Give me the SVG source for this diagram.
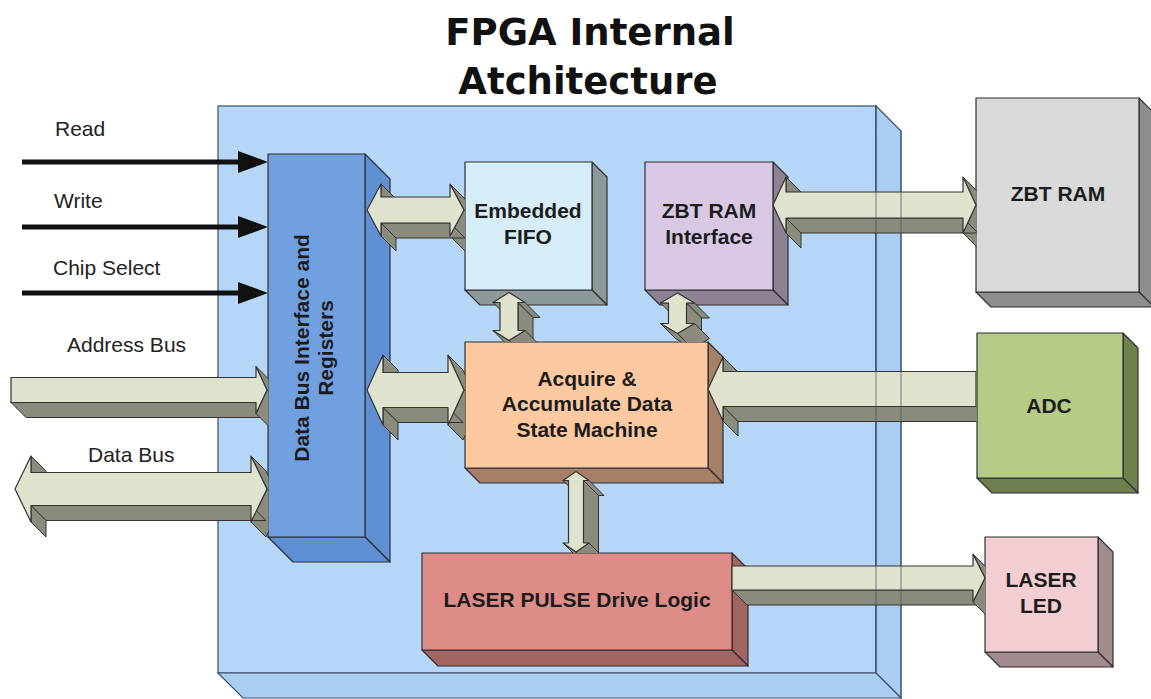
<svg xmlns="http://www.w3.org/2000/svg" width="1151" height="699" viewBox="0 0 1151 699">
<style>
.title{font-family:"DejaVu Sans","Liberation Sans",sans-serif;font-weight:bold;font-size:37px;text-anchor:middle;fill:#111}
.lbl{font-family:"Liberation Sans",Arial,sans-serif;font-size:21px;fill:#222}
.bt{font-family:"Liberation Sans",Arial,sans-serif;font-size:21px;font-weight:bold;fill:#1c1c1c;text-anchor:middle}
.ol{stroke:#2f2f2f;stroke-width:1.2;stroke-linejoin:round}
.ad{fill:#8a8b7c;stroke:#333;stroke-width:1;stroke-linejoin:round}
.al{fill:#dfe2cd;stroke:#333;stroke-width:1.2;stroke-linejoin:round}
.sig{stroke:#111;stroke-width:5;fill:none;marker-end:url(#ah)}
</style>
<defs>
<marker id="ah" markerUnits="userSpaceOnUse" markerWidth="30" markerHeight="24" refX="12" refY="12" orient="auto">
<path d="M0,1 L30,12 L0,23 Z" fill="#111"/>
</marker>
<clipPath id="cl268"><rect x="0" y="0" width="268.5" height="699"/></clipPath>
<clipPath id="cl465"><rect x="0" y="0" width="465" height="699"/></clipPath>
<clipPath id="cl976"><rect x="0" y="0" width="976.5" height="699"/></clipPath>
<clipPath id="cl985"><rect x="0" y="0" width="985.5" height="699"/></clipPath>
<clipPath id="ct342"><rect x="0" y="0" width="1151" height="342"/></clipPath>
<clipPath id="ct553"><rect x="0" y="0" width="1151" height="553"/></clipPath>
</defs>
<rect x="0" y="0" width="1151" height="699" fill="#ffffff"/>

<g id="title">
<text class="title" x="590" y="45">FPGA Internal</text>
<text class="title" x="588" y="94">Atchitecture</text>
</g>

<g id="fpga">
<rect x="218" y="106" width="658" height="567" fill="#b6d6f8" stroke="#3b4f6b" stroke-width="1.2"/>
<polygon points="876,106 901,131 901,698 876,673" fill="#aacdf2" stroke="#3b4f6b" stroke-width="1.2"/>
<polygon points="218,673 876,673 901,698 243,698" fill="#aacdf2" stroke="#3b4f6b" stroke-width="1.2"/>
</g>

<g id="labels">
<text class="lbl" x="55" y="136">Read</text>
<text class="lbl" x="54" y="208">Write</text>
<text class="lbl" x="53" y="275">Chip Select</text>
<text class="lbl" x="67" y="352">Address Bus</text>
<text class="lbl" x="88" y="462">Data Bus</text>
</g>

<g id="databus">
<polygon class="ol" points="365,154 390,179 390,562 365,537" fill="#6090d4"/>
<polygon class="ol" points="268,537 365,537 390,562 293,562" fill="#6090d4"/>
<rect class="ol" x="268" y="154" width="97" height="383" fill="#70a0e0"/>
<text class="bt" transform="translate(309,348) rotate(-90)" fill="#1a2540">Data Bus Interface and</text>
<text class="bt" transform="translate(333,348) rotate(-90)" fill="#1a2540">Registers</text>
</g>

<g id="fifo">
<polygon class="ol" points="592,162 607,177 607,305 592,290" fill="#8c989a"/>
<polygon class="ol" points="465,290 592,290 607,305 480,305" fill="#8c989a"/>
<rect class="ol" x="465" y="162" width="127" height="128" fill="#d6ecf6"/>
<text class="bt" x="528" y="218">Embedded</text>
<text class="bt" x="528" y="244">FIFO</text>
</g>

<g id="zbtif">
<polygon class="ol" points="773,162 788,177 788,305 773,290" fill="#8c8294"/>
<polygon class="ol" points="645,290 773,290 788,305 660,305" fill="#8c8294"/>
<rect class="ol" x="645" y="162" width="128" height="128" fill="#d9c8e3"/>
<text class="bt" x="709" y="218">ZBT RAM</text>
<text class="bt" x="709" y="244">Interface</text>
</g>

<g id="acquire">
<polygon class="ol" points="708,342 723,357 723,483 708,468" fill="#a57f66"/>
<polygon class="ol" points="465,468 708,468 723,483 480,483" fill="#a57f66"/>
<rect class="ol" x="465" y="342" width="243" height="126" fill="#fdc9a0"/>
<text class="bt" x="587" y="386">Acquire &amp;</text>
<text class="bt" x="587" y="411">Accumulate Data</text>
<text class="bt" x="587" y="437">State Machine</text>
</g>

<g id="laserpulse">
<polygon class="ol" points="732,553 748,569 748,666 732,650" fill="#a26462"/>
<polygon class="ol" points="422,650 732,650 748,666 438,666" fill="#a26462"/>
<rect class="ol" x="422" y="553" width="310" height="97" fill="#de8c88"/>
<text class="bt" x="577" y="607">LASER PULSE Drive Logic</text>
</g>

<g id="zbtram">
<polygon class="ol" points="1139,98 1154,113 1154,307 1139,292" fill="#8e8e8e"/>
<polygon class="ol" points="976,292 1139,292 1154,307 991,307" fill="#8e8e8e"/>
<rect class="ol" x="976" y="98" width="163" height="194" fill="#d9d9d9"/>
<text class="bt" x="1058" y="201">ZBT RAM</text>
</g>

<g id="adc">
<polygon class="ol" points="1123,333 1138,348 1138,493 1123,478" fill="#6f804c"/>
<polygon class="ol" points="977,478 1123,478 1138,493 992,493" fill="#6f804c"/>
<rect class="ol" x="977" y="333" width="146" height="145" fill="#b5cb86"/>
<text class="bt" x="1049" y="413">ADC</text>
</g>

<g id="laserled">
<polygon class="ol" points="1098,537 1113,552 1113,667 1098,652" fill="#a08b8e"/>
<polygon class="ol" points="985,652 1098,652 1113,667 1000,667" fill="#a08b8e"/>
<rect class="ol" x="985" y="537" width="113" height="115" fill="#f2cdd2"/>
<text class="bt" x="1041" y="587">LASER</text>
<text class="bt" x="1041" y="613">LED</text>
</g>

<g id="connectors">
<line class="sig" x1="22" y1="162" x2="250" y2="162"/>
<line class="sig" x1="22" y1="227" x2="250" y2="227"/>
<line class="sig" x1="22" y1="293" x2="250" y2="293"/>

<g clip-path="url(#cl268)">
<polygon class="ad" points="11,402.5 256,402.5 271,417.5 26,417.5"/>
<polygon class="ad" points="256,366.5 267,390 282,405 271,381.5"/>
<polygon class="ad" points="267,390 256,413.5 271,428.5 282,405"/>
<polygon class="al" points="11,377.5 256,377.5 256,366.5 267,390 256,413.5 256,402.5 11,402.5"/>
</g>

<g clip-path="url(#cl268)">
<polygon class="ad" points="31,456 31,472.5 46,487.5 46,471"/>
<polygon class="ad" points="251,456 267,489 282,504 266,471"/>
<polygon class="ad" points="267,489 251,522 266,537 282,504"/>
<polygon class="ad" points="251,505.5 31,505.5 46,520.5 266,520.5"/>
<polygon class="ad" points="31,505.5 31,522 46,537 46,520.5"/>
<polygon class="al" points="15,489 31,456 31,472.5 251,472.5 251,456 267,489 251,522 251,505.5 31,505.5 31,522"/>
</g>

<g clip-path="url(#cl465)">
<polygon class="ad" points="381,184 381,197 396,212 396,199"/>
<polygon class="ad" points="450,184 464,210 479,225 465,199"/>
<polygon class="ad" points="464,210 450,236 465,251 479,225"/>
<polygon class="ad" points="450,223 381,223 396,238 465,238"/>
<polygon class="ad" points="381,223 381,236 396,251 396,238"/>
<polygon class="al" points="367,210 381,184 381,197 450,197 450,184 464,210 450,236 450,223 381,223 381,236"/>
</g>

<g clip-path="url(#cl465)">
<polygon class="ad" points="383,355 383,372.5 398,387.5 398,370"/>
<polygon class="ad" points="448,355 464,390 479,405 463,370"/>
<polygon class="ad" points="464,390 448,425 463,440 479,405"/>
<polygon class="ad" points="448,407.5 383,407.5 398,422.5 463,422.5"/>
<polygon class="ad" points="383,407.5 383,425 398,440 398,422.5"/>
<polygon class="al" points="367,390 383,355 383,372.5 448,372.5 448,355 464,390 448,425 448,407.5 383,407.5 383,425"/>
</g>

<g clip-path="url(#cl976)">
<polygon class="ad" points="786,177 786,192 801,207 801,192"/>
<polygon class="ad" points="963,177 976,205 991,220 978,192"/>
<polygon class="ad" points="976,205 963,233 978,248 991,220"/>
<polygon class="ad" points="963,218 786,218 801,233 978,233"/>
<polygon class="ad" points="786,218 786,233 801,248 801,233"/>
<polygon class="al" points="773,205 786,177 786,192 963,192 963,177 976,205 963,233 963,218 786,218 786,233"/>
</g>

<g clip-path="url(#cl976)">
<polygon class="ad" points="723,357 723,371.5 738,386.5 738,372"/>
<polygon class="ad" points="976,406.5 723,406.5 738,421.5 991,421.5"/>
<polygon class="ad" points="723,406.5 723,421 738,436 738,421.5"/>
<polygon class="al" points="708,389 723,357 723,371.5 976,371.5 976,406.5 723,406.5 723,421"/>
</g>

<g clip-path="url(#cl985)">
<polygon class="ad" points="732,590 973,590 988,605 747,605"/>
<polygon class="ad" points="973,554 985,578 1000,593 988,569"/>
<polygon class="ad" points="985,578 973,602 988,617 1000,593"/>
<polygon class="al" points="732,566 973,566 973,554 985,578 973,602 973,590 732,590"/>
</g>

<g clip-path="url(#ct342)">
<polygon class="ad" points="525,302.5 518,302.5 533,317.5 540,317.5"/>
<polygon class="ad" points="518,302.5 518,330.5 533,345.5 533,317.5"/>
<polygon class="ad" points="525,330.5 509,340.5 524,355.5 540,345.5"/>
<polygon class="ad" points="509,340.5 493,330.5 508,345.5 524,355.5"/>
<polygon class="ad" points="500,302.5 493,302.5 508,317.5 515,317.5"/>
<polygon class="al" points="509,292.5 525,302.5 518,302.5 518,330.5 525,330.5 509,340.5 493,330.5 500,330.5 500,302.5 493,302.5"/>
</g>

<g clip-path="url(#ct342)">
<polygon class="ad" points="694.5,303 686.5,303 701.5,318 709.5,318"/>
<polygon class="ad" points="686.5,303 686.5,323.5 701.5,338.5 701.5,318"/>
<polygon class="ad" points="694.5,323.5 677.5,333.5 692.5,348.5 709.5,338.5"/>
<polygon class="ad" points="677.5,333.5 660.5,323.5 675.5,338.5 692.5,348.5"/>
<polygon class="ad" points="668.5,303 660.5,303 675.5,318 683.5,318"/>
<polygon class="al" points="677.5,293 694.5,303 686.5,303 686.5,323.5 694.5,323.5 677.5,333.5 660.5,323.5 668.5,323.5 668.5,303 660.5,303"/>
</g>

<g clip-path="url(#ct553)">
<polygon class="ad" points="589,480.5 583.5,480.5 598.5,495.5 604,495.5"/>
<polygon class="ad" points="583.5,480.5 583.5,543 598.5,558 598.5,495.5"/>
<polygon class="ad" points="589,543 576,552 591,567 604,558"/>
<polygon class="ad" points="576,552 563,543 578,558 591,567"/>
<polygon class="ad" points="568.5,480.5 563,480.5 578,495.5 583.5,495.5"/>
<polygon class="al" points="576,471.5 589,480.5 583.5,480.5 583.5,543 589,543 576,552 563,543 568.5,543 568.5,480.5 563,480.5"/>
</g>
</g>

<g id="fpga-edges" stroke="#3b4f6b" stroke-width="1" stroke-opacity="0.7" fill="none">
<line x1="876" y1="106" x2="876" y2="673"/>
<line x1="901" y1="131" x2="901" y2="698"/>
</g>
</svg>
